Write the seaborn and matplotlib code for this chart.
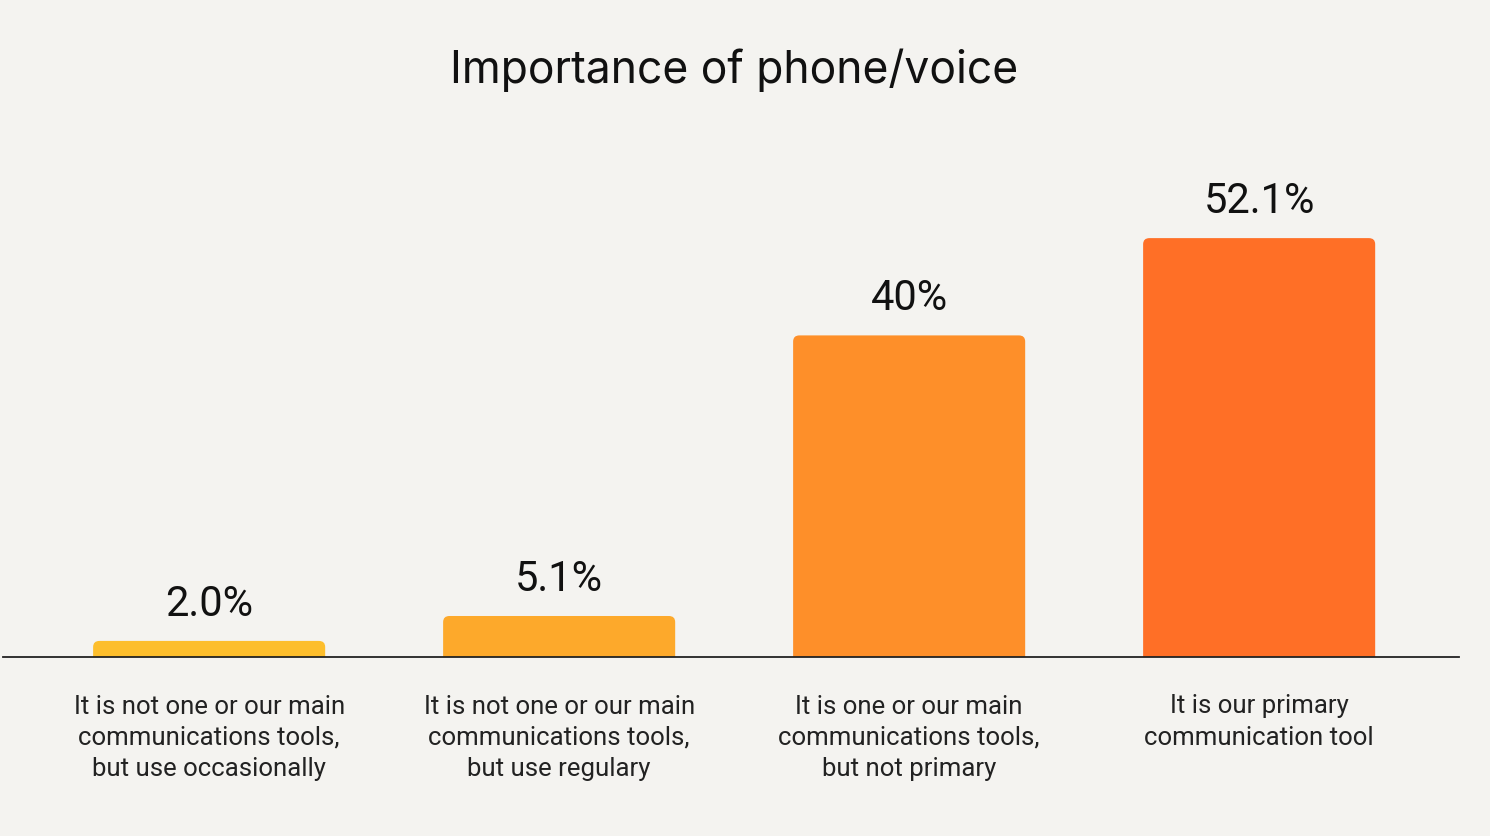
import pandas as pd
import matplotlib.pyplot as plt
import seaborn as sns
from matplotlib.patches import FancyBboxPatch

# chart data
categories = [
    "It is not one or our main\ncommunications tools,\nbut use occasionally",
    "It is not one or our main\ncommunications tools,\nbut use regulary",
    "It is one or our main\ncommunications tools,\nbut not primary",
    "It is our primary\ncommunication tool",
]
values = [2.0, 5.1, 40.0, 52.1]
value_labels = ["2.0%", "5.1%", "40%", "52.1%"]
bar_colors = ["#FDBE2C", "#FDA92B", "#FE8F29", "#FF6F26"]

bg = "#F4F3F0"
df = pd.DataFrame({"cat": categories, "val": values})

sns.set_style("white")
plt.rcParams["font.family"] = ["Roboto", "DejaVu Sans"]

fig = plt.figure(figsize=(14.9, 8.36), dpi=100, facecolor=bg)
ax = fig.add_axes([3 / 1490, 1 - 657 / 836, 1456 / 1490, 507 / 836])
ax.set_facecolor(bg)

sns.barplot(data=df, x="cat", y="val", hue="cat", palette=bar_colors,
            legend=False, width=0.663, saturation=1, ax=ax)

# swap the square bars for rounded ones
for p in list(ax.patches):
    x0, w, h = p.get_x(), p.get_width(), p.get_height()
    fc = p.get_facecolor()
    p.remove()
    rb = FancyBboxPatch((x0, -1.5), w, h + 1.5,
                        boxstyle="round,pad=0,rounding_size=0.018",
                        mutation_aspect=42, facecolor=fc, edgecolor="none",
                        clip_on=True)
    ax.add_patch(rb)

for i, (v, lab) in enumerate(zip(values, value_labels)):
    ax.text(i, v + 2.0, lab, ha="center", va="bottom", fontsize=30, color="#111111")

ax.set_xlim(-0.589, 3.571)
ax.set_ylim(0, 63.06)
ax.set_xlabel("")
ax.set_ylabel("")
ax.set_yticks([])
ax.tick_params(axis="x", length=0, pad=27, labelsize=18.5, colors="#222222")
for lbl in ax.get_xticklabels():
    lbl.set_linespacing(1.38)
    lbl.set_va("top")
for side in ["top", "left", "right"]:
    ax.spines[side].set_visible(False)
ax.spines["bottom"].set_color("#222222")
ax.spines["bottom"].set_linewidth(1.3)

fig.text(734 / 1490, 1 - 70 / 836, "Importance of phone/voice", ha="center",
         va="center", fontsize=32, color="#111111", family=["Inter", "DejaVu Sans"])

fig.savefig("out.png", dpi=100, facecolor=bg)
